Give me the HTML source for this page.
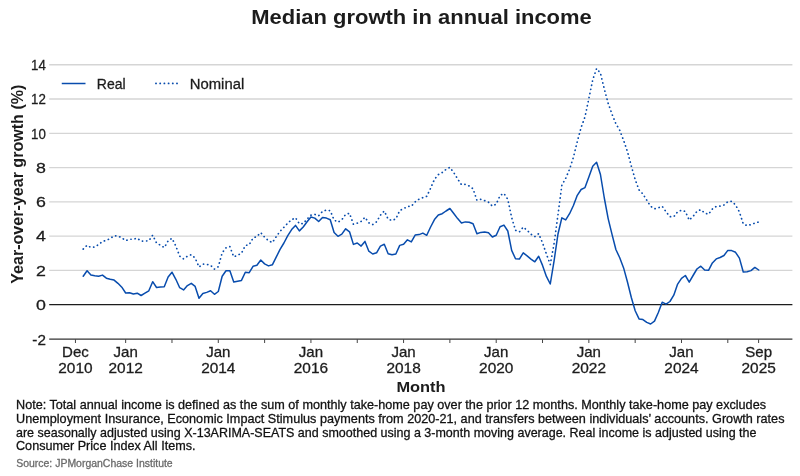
<!DOCTYPE html>
<html><head><meta charset="utf-8"><title>Median growth in annual income</title>
<style>html,body{margin:0;padding:0;background:#fff;}body{width:800px;height:476px;overflow:hidden;font-family:"Liberation Sans",sans-serif;}svg{display:block;will-change:transform;}text{font-family:"Liberation Sans",sans-serif;}</style>
</head><body>
<svg width="800" height="476" viewBox="0 0 800 476">
<rect width="800" height="476" fill="#ffffff"/>
<text x="251.3" y="23.6"  text-anchor="start" font-size="20.6" font-weight="bold" fill="#1c1c1c" textLength="340.50" lengthAdjust="spacingAndGlyphs">Median growth in annual income</text>
<line x1="49.2" x2="792.4" y1="270.42" y2="270.42" stroke="#d5d5d5" stroke-width="1.3"/>
<line x1="49.2" x2="792.4" y1="236.14" y2="236.14" stroke="#d5d5d5" stroke-width="1.3"/>
<line x1="49.2" x2="792.4" y1="201.86" y2="201.86" stroke="#d5d5d5" stroke-width="1.3"/>
<line x1="49.2" x2="792.4" y1="167.58" y2="167.58" stroke="#d5d5d5" stroke-width="1.3"/>
<line x1="49.2" x2="792.4" y1="133.30" y2="133.30" stroke="#d5d5d5" stroke-width="1.3"/>
<line x1="49.2" x2="792.4" y1="99.02" y2="99.02" stroke="#d5d5d5" stroke-width="1.3"/>
<line x1="49.2" x2="792.4" y1="64.74" y2="64.74" stroke="#d5d5d5" stroke-width="1.3"/>
<text x="45.9" y="344.78"  text-anchor="end" font-size="14.8" stroke="#1c1c1c" stroke-width="0.28" fill="#1c1c1c" textLength="13.56" lengthAdjust="spacingAndGlyphs">-2</text>
<text x="45.9" y="310.00"  text-anchor="end" font-size="14.8" stroke="#1c1c1c" stroke-width="0.28" fill="#1c1c1c" textLength="9.88" lengthAdjust="spacingAndGlyphs">0</text>
<text x="45.9" y="275.72"  text-anchor="end" font-size="14.8" stroke="#1c1c1c" stroke-width="0.28" fill="#1c1c1c" textLength="9.88" lengthAdjust="spacingAndGlyphs">2</text>
<text x="45.9" y="241.44"  text-anchor="end" font-size="14.8" stroke="#1c1c1c" stroke-width="0.28" fill="#1c1c1c" textLength="9.88" lengthAdjust="spacingAndGlyphs">4</text>
<text x="45.9" y="207.16"  text-anchor="end" font-size="14.8" stroke="#1c1c1c" stroke-width="0.28" fill="#1c1c1c" textLength="9.88" lengthAdjust="spacingAndGlyphs">6</text>
<text x="45.9" y="172.88"  text-anchor="end" font-size="14.8" stroke="#1c1c1c" stroke-width="0.28" fill="#1c1c1c" textLength="9.88" lengthAdjust="spacingAndGlyphs">8</text>
<text x="45.9" y="138.60"  text-anchor="end" font-size="14.8" stroke="#1c1c1c" stroke-width="0.28" fill="#1c1c1c" textLength="14.82" lengthAdjust="spacingAndGlyphs">10</text>
<text x="45.9" y="104.32"  text-anchor="end" font-size="14.8" stroke="#1c1c1c" stroke-width="0.28" fill="#1c1c1c" textLength="14.82" lengthAdjust="spacingAndGlyphs">12</text>
<text x="45.9" y="70.04"  text-anchor="end" font-size="14.8" stroke="#1c1c1c" stroke-width="0.28" fill="#1c1c1c" textLength="14.82" lengthAdjust="spacingAndGlyphs">14</text>
<line x1="49.2" x2="792.4" y1="304.7" y2="304.7" stroke="#1c1c1c" stroke-width="1.2"/>
<line x1="49.2" x2="792.4" y1="339.20" y2="339.20" stroke="#333333" stroke-width="1.25"/>
<line x1="75.45" x2="75.45" y1="339.20" y2="343.00" stroke="#444444" stroke-width="1"/>
<line x1="125.65" x2="125.65" y1="339.20" y2="343.00" stroke="#444444" stroke-width="1"/>
<line x1="171.97" x2="171.97" y1="339.20" y2="343.00" stroke="#444444" stroke-width="1"/>
<line x1="218.29" x2="218.29" y1="339.20" y2="343.00" stroke="#444444" stroke-width="1"/>
<line x1="264.61" x2="264.61" y1="339.20" y2="343.00" stroke="#444444" stroke-width="1"/>
<line x1="310.93" x2="310.93" y1="339.20" y2="343.00" stroke="#444444" stroke-width="1"/>
<line x1="357.25" x2="357.25" y1="339.20" y2="343.00" stroke="#444444" stroke-width="1"/>
<line x1="403.57" x2="403.57" y1="339.20" y2="343.00" stroke="#444444" stroke-width="1"/>
<line x1="449.89" x2="449.89" y1="339.20" y2="343.00" stroke="#444444" stroke-width="1"/>
<line x1="496.21" x2="496.21" y1="339.20" y2="343.00" stroke="#444444" stroke-width="1"/>
<line x1="542.53" x2="542.53" y1="339.20" y2="343.00" stroke="#444444" stroke-width="1"/>
<line x1="588.85" x2="588.85" y1="339.20" y2="343.00" stroke="#444444" stroke-width="1"/>
<line x1="635.17" x2="635.17" y1="339.20" y2="343.00" stroke="#444444" stroke-width="1"/>
<line x1="681.49" x2="681.49" y1="339.20" y2="343.00" stroke="#444444" stroke-width="1"/>
<line x1="727.81" x2="727.81" y1="339.20" y2="343.00" stroke="#444444" stroke-width="1"/>
<line x1="758.60" x2="758.60" y1="339.20" y2="343.00" stroke="#444444" stroke-width="1"/>
<text x="75.45" y="357.1"  text-anchor="middle" font-size="14.2" stroke="#1c1c1c" stroke-width="0.28" fill="#1c1c1c" textLength="26.77" lengthAdjust="spacingAndGlyphs">Dec</text>
<text x="75.45" y="372.6"  text-anchor="middle" font-size="14.2" stroke="#1c1c1c" stroke-width="0.28" fill="#1c1c1c" textLength="34.28" lengthAdjust="spacingAndGlyphs">2010</text>
<text x="125.65" y="357.1"  text-anchor="middle" font-size="14.2" stroke="#1c1c1c" stroke-width="0.28" fill="#1c1c1c" textLength="24.27" lengthAdjust="spacingAndGlyphs">Jan</text>
<text x="125.65" y="372.6"  text-anchor="middle" font-size="14.2" stroke="#1c1c1c" stroke-width="0.28" fill="#1c1c1c" textLength="34.28" lengthAdjust="spacingAndGlyphs">2012</text>
<text x="218.29" y="357.1"  text-anchor="middle" font-size="14.2" stroke="#1c1c1c" stroke-width="0.28" fill="#1c1c1c" textLength="24.27" lengthAdjust="spacingAndGlyphs">Jan</text>
<text x="218.29" y="372.6"  text-anchor="middle" font-size="14.2" stroke="#1c1c1c" stroke-width="0.28" fill="#1c1c1c" textLength="34.28" lengthAdjust="spacingAndGlyphs">2014</text>
<text x="310.93" y="357.1"  text-anchor="middle" font-size="14.2" stroke="#1c1c1c" stroke-width="0.28" fill="#1c1c1c" textLength="24.27" lengthAdjust="spacingAndGlyphs">Jan</text>
<text x="310.93" y="372.6"  text-anchor="middle" font-size="14.2" stroke="#1c1c1c" stroke-width="0.28" fill="#1c1c1c" textLength="34.28" lengthAdjust="spacingAndGlyphs">2016</text>
<text x="403.57" y="357.1"  text-anchor="middle" font-size="14.2" stroke="#1c1c1c" stroke-width="0.28" fill="#1c1c1c" textLength="24.27" lengthAdjust="spacingAndGlyphs">Jan</text>
<text x="403.57" y="372.6"  text-anchor="middle" font-size="14.2" stroke="#1c1c1c" stroke-width="0.28" fill="#1c1c1c" textLength="34.28" lengthAdjust="spacingAndGlyphs">2018</text>
<text x="496.21" y="357.1"  text-anchor="middle" font-size="14.2" stroke="#1c1c1c" stroke-width="0.28" fill="#1c1c1c" textLength="24.27" lengthAdjust="spacingAndGlyphs">Jan</text>
<text x="496.21" y="372.6"  text-anchor="middle" font-size="14.2" stroke="#1c1c1c" stroke-width="0.28" fill="#1c1c1c" textLength="34.28" lengthAdjust="spacingAndGlyphs">2020</text>
<text x="588.85" y="357.1"  text-anchor="middle" font-size="14.2" stroke="#1c1c1c" stroke-width="0.28" fill="#1c1c1c" textLength="24.27" lengthAdjust="spacingAndGlyphs">Jan</text>
<text x="588.85" y="372.6"  text-anchor="middle" font-size="14.2" stroke="#1c1c1c" stroke-width="0.28" fill="#1c1c1c" textLength="34.28" lengthAdjust="spacingAndGlyphs">2022</text>
<text x="681.49" y="357.1"  text-anchor="middle" font-size="14.2" stroke="#1c1c1c" stroke-width="0.28" fill="#1c1c1c" textLength="24.27" lengthAdjust="spacingAndGlyphs">Jan</text>
<text x="681.49" y="372.6"  text-anchor="middle" font-size="14.2" stroke="#1c1c1c" stroke-width="0.28" fill="#1c1c1c" textLength="34.28" lengthAdjust="spacingAndGlyphs">2024</text>
<text x="758.70" y="357.1"  text-anchor="middle" font-size="14.2" stroke="#1c1c1c" stroke-width="0.28" fill="#1c1c1c" textLength="26.78" lengthAdjust="spacingAndGlyphs">Sep</text>
<text x="758.70" y="372.6"  text-anchor="middle" font-size="14.2" stroke="#1c1c1c" stroke-width="0.28" fill="#1c1c1c" textLength="34.28" lengthAdjust="spacingAndGlyphs">2025</text>
<text x="396.4" y="391.5"  text-anchor="start" font-size="15" font-weight="bold" fill="#1c1c1c" textLength="49.20" lengthAdjust="spacingAndGlyphs">Month</text>
<text  transform="translate(23.1,283.8) rotate(-90)" text-anchor="start" font-size="16.5" font-weight="bold" fill="#1c1c1c" textLength="199.20" lengthAdjust="spacingAndGlyphs">Year-over-year growth (%)</text>
<line x1="61.75" x2="85.5" y1="83.5" y2="83.5" stroke="#084cad" stroke-width="1.5"/>
<text x="96.8" y="88.6"  text-anchor="start" font-size="14" stroke="#1c1c1c" stroke-width="0.28" fill="#1c1c1c">Real</text>
<line x1="155.9" x2="179" y1="83.45" y2="83.45" stroke="#084cad" stroke-width="1.7" stroke-linecap="round" stroke-dasharray="0.2 4.0"/>
<text x="189.8" y="88.6"  text-anchor="start" font-size="14" stroke="#1c1c1c" stroke-width="0.28" fill="#1c1c1c" textLength="54.43" lengthAdjust="spacingAndGlyphs">Nominal</text>
<polyline fill="none" stroke="#084cad" stroke-width="1.5" stroke-linejoin="round" stroke-linecap="round" points="83.20,276.20 87.06,270.70 90.92,275.10 94.78,275.70 98.64,276.20 102.50,275.10 106.36,278.20 110.22,279.30 114.08,280.10 117.94,283.30 121.80,287.20 125.66,293.00 129.52,292.70 133.38,294.00 137.24,293.20 141.10,295.50 144.96,293.20 148.82,290.80 152.68,281.70 156.54,287.50 160.40,286.90 164.26,286.70 168.12,277.00 171.98,272.20 175.84,279.30 179.70,287.70 183.56,289.90 187.42,285.60 191.28,283.30 195.14,286.40 199.00,298.20 202.86,293.50 206.72,292.40 210.58,290.80 214.44,294.30 218.30,291.50 222.16,276.20 226.02,270.70 229.88,270.70 233.74,282.00 237.60,281.20 241.46,280.40 245.32,272.20 249.18,272.70 253.04,266.30 256.90,265.20 260.76,260.00 264.62,263.90 268.48,265.90 272.34,264.80 276.20,257.20 280.06,249.30 283.92,243.00 287.78,235.60 291.64,229.60 295.50,225.40 299.36,230.90 303.22,227.00 307.08,221.80 310.94,217.00 314.80,218.10 318.66,221.50 322.52,217.50 326.38,218.10 330.24,219.70 334.10,232.50 337.96,236.30 341.82,234.10 345.68,228.80 349.54,231.80 353.40,244.40 357.26,243.00 361.12,246.10 364.98,241.40 368.84,251.20 372.70,254.00 376.56,252.80 380.42,246.10 384.28,244.30 388.14,253.70 392.00,254.80 395.86,254.00 399.72,245.40 403.58,244.30 407.44,239.80 411.30,241.90 415.16,235.10 419.02,234.60 422.88,233.10 426.74,235.30 430.60,227.00 434.46,219.60 438.32,215.00 442.18,213.70 446.04,211.00 449.90,208.50 453.76,213.50 457.62,218.60 461.48,223.00 465.34,221.90 469.20,222.20 473.06,223.80 476.92,233.70 480.78,232.40 484.64,232.10 488.50,232.80 492.36,237.00 496.22,235.20 500.08,226.80 503.94,225.10 507.80,231.00 511.66,250.40 515.52,258.80 519.38,259.10 523.24,252.80 527.10,255.90 530.96,259.10 534.82,261.80 538.68,256.30 542.54,265.40 546.40,276.40 550.26,284.00 554.12,260.60 557.98,234.00 561.84,217.80 565.70,219.90 569.56,213.70 573.42,205.50 577.28,195.30 581.14,189.50 585.00,187.60 588.86,177.00 592.72,166.20 596.58,162.30 600.44,174.50 604.30,198.00 608.16,218.60 612.02,234.40 615.88,249.50 619.74,257.80 623.60,267.90 627.46,282.00 631.32,297.50 635.18,310.80 639.04,318.90 642.90,319.60 646.76,322.40 650.62,324.00 654.48,321.10 658.34,312.50 662.20,302.20 666.06,304.10 669.92,301.50 673.78,295.20 677.64,284.10 681.50,278.30 685.36,275.50 689.22,282.10 693.08,275.50 696.94,269.00 700.80,266.20 704.66,270.00 708.52,270.30 712.38,262.90 716.24,258.90 720.10,257.50 723.96,255.50 727.82,250.40 731.68,250.60 735.54,252.30 739.40,258.10 743.26,272.00 747.12,271.70 750.98,270.60 754.84,267.40 758.70,270.00"/>
<polyline fill="none" stroke="#084cad" stroke-width="1.7" stroke-linejoin="round" stroke-linecap="round" stroke-dasharray="0.2 4.0" points="83.20,249.10 87.06,245.30 90.92,247.50 94.78,247.00 98.64,244.50 102.50,241.50 106.36,240.30 110.22,238.50 114.08,235.80 117.94,236.00 121.80,237.80 125.66,240.60 129.52,239.30 133.38,239.20 137.24,238.20 141.10,241.10 144.96,241.10 148.82,240.80 152.68,235.20 156.54,243.00 160.40,245.20 164.26,247.60 168.12,240.90 171.98,238.30 175.84,246.00 179.70,256.20 183.56,258.90 187.42,256.20 191.28,254.70 195.14,258.00 199.00,267.00 202.86,264.20 206.72,264.30 210.58,265.30 214.44,269.10 218.30,266.70 222.16,252.80 226.02,247.80 229.88,246.60 233.74,256.80 237.60,255.30 241.46,253.20 245.32,245.50 249.18,244.80 253.04,238.00 256.90,236.50 260.76,232.60 264.62,237.20 268.48,240.70 272.34,242.60 276.20,236.70 280.06,231.30 283.92,227.30 287.78,223.10 291.64,219.70 295.50,217.70 299.36,223.80 303.22,223.50 307.08,219.10 310.94,215.20 314.80,214.40 318.66,215.80 322.52,211.40 326.38,210.00 330.24,210.70 334.10,220.00 337.96,222.20 341.82,219.70 345.68,214.30 349.54,213.30 353.40,224.20 357.26,223.10 361.12,221.40 364.98,217.30 368.84,222.80 372.70,224.60 376.56,221.80 380.42,215.20 384.28,211.00 388.14,219.20 392.00,220.50 395.86,218.90 399.72,210.60 403.58,208.70 407.44,206.50 411.30,206.30 415.16,201.90 419.02,199.20 422.88,197.60 426.74,196.30 430.60,188.20 434.46,179.30 438.32,174.60 442.18,172.60 446.04,169.40 449.90,167.40 453.76,172.60 457.62,178.90 461.48,184.70 465.34,184.40 469.20,186.00 473.06,188.80 476.92,200.20 480.78,199.40 484.64,200.60 488.50,202.20 492.36,206.10 496.22,204.10 500.08,195.40 503.94,193.40 507.80,199.40 511.66,217.50 515.52,230.30 519.38,231.90 523.24,227.10 527.10,230.30 530.96,234.20 534.82,236.60 538.68,233.60 542.54,242.80 546.40,254.00 550.26,264.50 554.12,243.30 557.98,214.80 561.84,185.30 565.70,178.30 569.56,169.20 573.42,157.20 577.28,141.50 581.14,127.40 585.00,116.80 588.86,98.50 592.72,79.80 596.58,68.50 600.44,73.20 604.30,88.90 608.16,103.30 612.02,114.20 615.88,123.70 619.74,130.30 623.60,140.40 627.46,151.60 631.32,166.00 635.18,179.60 639.04,189.90 642.90,194.00 646.76,200.20 650.62,206.30 654.48,208.80 658.34,207.80 662.20,206.30 666.06,211.80 669.92,216.70 673.78,216.70 677.64,211.80 681.50,210.20 685.36,211.50 689.22,220.10 693.08,216.40 696.94,211.40 700.80,209.60 704.66,213.00 708.52,214.30 712.38,209.00 716.24,206.50 720.10,206.10 723.96,205.00 727.82,201.70 731.68,201.30 735.54,204.90 739.40,212.00 743.26,223.90 747.12,225.60 750.98,224.60 754.84,223.10 758.70,222.00"/>
<text x="16.0" y="409.3"  text-anchor="start" font-size="12.6" stroke="#111111" stroke-width="0.28" fill="#111111" textLength="750.00" lengthAdjust="spacingAndGlyphs">Note: Total annual income is defined as the sum of monthly take-home pay over the prior 12 months. Monthly take-home pay excludes</text>
<text x="16.0" y="423"  text-anchor="start" font-size="12.6" stroke="#111111" stroke-width="0.28" fill="#111111" textLength="768.50" lengthAdjust="spacingAndGlyphs">Unemployment Insurance, Economic Impact Stimulus payments from 2020-21, and transfers between individuals’ accounts. Growth rates</text>
<text x="16.0" y="436.6"  text-anchor="start" font-size="12.6" stroke="#111111" stroke-width="0.28" fill="#111111" textLength="740.50" lengthAdjust="spacingAndGlyphs">are seasonally adjusted using X-13ARIMA-SEATS and smoothed using a 3-month moving average. Real income is adjusted using the</text>
<text x="16.0" y="450.2"  text-anchor="start" font-size="12.6" stroke="#111111" stroke-width="0.28" fill="#111111" textLength="179.50" lengthAdjust="spacingAndGlyphs">Consumer Price Index All Items.</text>
<text x="16.2" y="466.6"  text-anchor="start" font-size="10.5" stroke="#6a6a6a" stroke-width="0.28" fill="#6a6a6a" textLength="156.50" lengthAdjust="spacingAndGlyphs">Source: JPMorganChase Institute</text>
</svg></body></html>
